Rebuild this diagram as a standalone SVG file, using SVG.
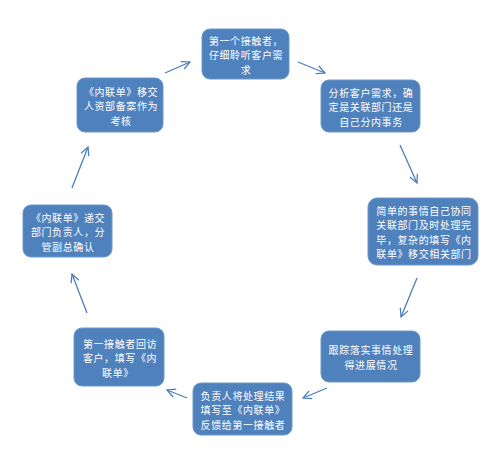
<svg xmlns="http://www.w3.org/2000/svg" width="500" height="470" viewBox="0 0 500 470">
<defs>
<style>
.box{fill:#4f81bd;stroke:#6d98cc;stroke-width:1}
.t{fill:#ffffff;font-family:"Noto Sans CJK SC","Noto Sans",sans-serif;font-size:10px;letter-spacing:0.6px;text-anchor:middle;dominant-baseline:central}
.c{fill:none;stroke:#4a7ebb;stroke-width:1.3}
</style>
<marker id="ah" viewBox="0 0 12 12" refX="11" refY="6" markerWidth="10" markerHeight="10" markerUnits="userSpaceOnUse" orient="auto">
<path d="M1,1 L11,6 L1,11" fill="none" stroke="#4a7ebb" stroke-width="1.5"/>
</marker>
</defs>
<rect width="500" height="470" fill="#ffffff"/>
<g id="connectors">
<line class="c" x1="298" y1="62" x2="325" y2="73" marker-end="url(#ah)"/>
<line class="c" x1="400" y1="145" x2="417" y2="183" marker-end="url(#ah)"/>
<line class="c" x1="417" y1="278" x2="401" y2="317" marker-end="url(#ah)"/>
<line class="c" x1="327" y1="388" x2="303" y2="398" marker-end="url(#ah)"/>
<line class="c" x1="187" y1="398" x2="167" y2="390" marker-end="url(#ah)"/>
<line class="c" x1="87" y1="313" x2="72" y2="274" marker-end="url(#ah)"/>
<line class="c" x1="72" y1="188" x2="88" y2="147" marker-end="url(#ah)"/>
<line class="c" x1="165" y1="73" x2="190" y2="62" marker-end="url(#ah)"/>
</g>
<g id="n1">
<rect class="box" x="202" y="29" width="87" height="50" rx="8"/>
<text class="t"><tspan x="246" y="39.5">第一个接触者，</tspan><tspan x="246" y="54">仔细聆听客户需</tspan><tspan x="246" y="68.5">求</tspan></text>
</g>
<g id="n2">
<rect class="box" x="321" y="80" width="99" height="52" rx="8"/>
<text class="t"><tspan x="371" y="91.5">分析客户需求，确</tspan><tspan x="371" y="106">定是关联部门还是</tspan><tspan x="371" y="120.5">自己分内事务</tspan></text>
</g>
<g id="n3">
<rect class="box" x="368" y="198" width="110" height="67" rx="9"/>
<text class="t"><tspan x="424" y="209.8">简单的事情自己协同</tspan><tspan x="424" y="224.3">关联部门及时处理完</tspan><tspan x="424" y="238.8">毕，复杂的填写《内</tspan><tspan x="424" y="253.3">联单》移交相关部门</tspan></text>
</g>
<g id="n4">
<rect class="box" x="321" y="331" width="99" height="51" rx="8"/>
<text class="t"><tspan x="371" y="349.3">跟踪落实事情处理</tspan><tspan x="371" y="363.8">得进展情况</tspan></text>
</g>
<g id="n5">
<rect class="box" x="193" y="383" width="99" height="52" rx="8"/>
<text class="t"><tspan x="243" y="394.5">负责人将处理结果</tspan><tspan x="243" y="409">填写至《内联单》</tspan><tspan x="243" y="423.5">反馈给第一接触者</tspan></text>
</g>
<g id="n6">
<rect class="box" x="74" y="328" width="90" height="58" rx="8"/>
<text class="t"><tspan x="120" y="342.5">第一接触者回访</tspan><tspan x="120" y="357">客户，填写《内</tspan><tspan x="118" y="371.5">联单》</tspan></text>
</g>
<g id="n7">
<rect class="box" x="23" y="205" width="89" height="52" rx="8"/>
<text class="t"><tspan x="68" y="216.5">《内联单》递交</tspan><tspan x="68" y="231">部门负责人，分</tspan><tspan x="68" y="245.5">管副总确认</tspan></text>
</g>
<g id="n8">
<rect class="box" x="77" y="78" width="86" height="54" rx="8"/>
<text class="t"><tspan x="121" y="90.5">《内联单》移交</tspan><tspan x="121" y="105">人资部备案作为</tspan><tspan x="121" y="119.5">考核</tspan></text>
</g>
</svg>
